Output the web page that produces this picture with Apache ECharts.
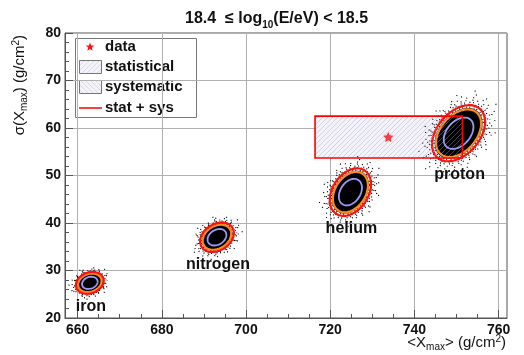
<!DOCTYPE html>
<html>
<head>
<meta charset="utf-8">
<script src="https://cdn.jsdelivr.net/npm/echarts@6/dist/echarts.min.js"></script>
<style>
  html, body { margin: 0; padding: 0; background: #fff; }
  #chart { width: 524px; height: 355px; }
</style>
</head>
<body>
<div id="chart"></div>
<script>
// simulated compositions: mean <Xmax>, mean sigma(Xmax), spread of the outer (red) contour
const compositions = ['iron', 'nitrogen', 'helium', 'proton'];
const meanXmax = [662.9, 693.1, 724.8, 750.5];
const meanSigma = [27.4, 37.0, 46.5, 58.9];
const spreadX = [3.3, 4.0, 4.9, 6.3];
const spreadY = [2.3, 3.1, 5.0, 5.9];
const spreadCorr = [0.2, 0.28, 0.33, 0.4];

// measured point with errors
const dataXmax = [733.8];
const dataSigma = [58.1];
const statErrX = [1.2];
const statErrY = [1.0];
const sysErrX = [-17.4, 17.6];
const sysErrY = [-4.4, 4.4];

// axis ticks
const xLabels = [660, 680, 700, 720, 740, 760];
const xMinorTicks = [660, 665, 670, 675, 680, 685, 690, 695, 700, 705, 710, 715, 720, 725, 730, 735, 740, 745, 750, 755, 760];

const FONT = '"Liberation Sans", Arial, Helvetica, sans-serif';

const hatch = (bg, line, dir) => {
  const c = document.createElement('canvas');
  c.width = 5;
  c.height = 5;
  const g = c.getContext('2d');
  g.fillStyle = bg;
  g.fillRect(0, 0, 5, 5);
  g.strokeStyle = line;
  g.lineWidth = 1;
  g.beginPath();
  for (let o = -5; o <= 10; o += 5) {
    if (dir > 0) {
      g.moveTo(o, 5);
      g.lineTo(o + 5, 0);
    } else {
      g.moveTo(o, 0);
      g.lineTo(o + 5, 5);
    }
  }
  g.stroke();
  return { image: c, repeat: 'repeat' };
};

const boxFill = hatch('#f2f2f8', '#dedeec', 1);
const boxOverlay = hatch('rgba(0,0,0,0)', 'rgba(185,185,225,0.35)', 1);
const legStatFill = hatch('#f2f2f8', '#dadaea', 1);
const legSysFill = hatch('#f2f2f8', '#dadaea', -1);

const ellipse = (api, cx, cy, rx, ry, rho, k) => {
  const pts = [];
  const s = Math.sqrt(1 - rho * rho);
  for (let i = 0; i < 72; i++) {
    const t = (2 * Math.PI * i) / 72;
    pts.push(api.coord([cx + k * rx * Math.cos(t), cy + k * ry * (rho * Math.cos(t) + s * Math.sin(t))]));
  }
  return pts;
};

// dotted halo around each contour: [scale, dash pattern, offset]
const halo = [
  [0.93, [1, 2, 1, 3.5], 0],
  [1.03, [1, 3, 1, 2], 1],
  [1.1, [1, 2.5, 1, 4.5], 2],
  [1.18, [1, 4, 1, 6], 0.5],
  [1.27, [1, 6, 1, 9], 3],
  [1.37, [1, 10, 1, 14], 5],
  [1.5, [1, 18, 1, 25], 7]
];

const renderBlob = (params, api) => {
  const cx = api.value(0);
  const cy = api.value(1);
  const rx = api.value(2);
  const ry = api.value(3);
  const rho = api.value(4);
  const children = [];
  halo.forEach(([k, dash, off]) => {
    children.push({
      type: 'polygon',
      shape: { points: ellipse(api, cx, cy, rx, ry, rho, k) },
      style: { fill: 'none', stroke: '#000', lineWidth: 1.2, lineDash: dash, lineDashOffset: off }
    });
  });
  children.push({
    type: 'polygon',
    shape: { points: ellipse(api, cx, cy, rx, ry, rho, 0.9) },
    style: { fill: '#000', stroke: 'none' }
  });
  children.push({
    type: 'polygon',
    shape: { points: ellipse(api, cx, cy, rx, ry, rho, 0.56) },
    style: { fill: 'none', stroke: '#9a9af8', lineWidth: 1.8 }
  });
  children.push({
    type: 'polygon',
    shape: { points: ellipse(api, cx, cy, rx, ry, rho, 0.85) },
    style: { fill: 'none', stroke: '#ff8a1c', lineWidth: 2.2 }
  });
  const red = ellipse(api, cx, cy, rx, ry, rho, 1);
  children.push({
    type: 'polygon',
    shape: { points: red },
    style: { fill: 'none', stroke: '#ff1010', lineWidth: 2.2 }
  });
  const c = api.coord([cx, cy]);
  const bottom = Math.max(...red.map(p => p[1]));
  children.push({
    type: 'text',
    x: c[0] + 1,
    y: bottom + 13,
    style: {
      text: compositions[params.dataIndex],
      fill: '#111',
      font: 'bold 16px ' + FONT,
      align: 'center',
      verticalAlign: 'middle'
    }
  });
  return { type: 'group', children };
};

const boxRect = (api) => {
  const x = api.value(0);
  const y = api.value(1);
  const p0 = api.coord([x + sysErrX[0], y + sysErrY[1]]);
  const p1 = api.coord([x + sysErrX[1], y + sysErrY[0]]);
  return { x: p0[0], y: p0[1], width: p1[0] - p0[0], height: p1[1] - p0[1] };
};

// box background, drawn beneath the simulations
const renderBoxFill = (params, api) => {
  const x = api.value(0);
  const y = api.value(1);
  const st0 = api.coord([x - statErrX[0], y + statErrY[0]]);
  const st1 = api.coord([x + statErrX[0], y - statErrY[0]]);
  return {
    type: 'group',
    children: [
      { type: 'rect', shape: boxRect(api), style: { fill: boxFill, stroke: 'none' } },
      {
        type: 'rect',
        shape: { x: st0[0], y: st0[1], width: st1[0] - st0[0], height: st1[1] - st0[1] },
        style: { fill: '#eaeaf4', stroke: 'none' }
      }
    ]
  };
};

// hatch overlay and stat + sys outline, drawn above the simulations
const renderBoxTop = (params, api) => ({
  type: 'group',
  children: [
    { type: 'rect', shape: boxRect(api), style: { fill: boxOverlay, stroke: 'none' } },
    { type: 'rect', shape: boxRect(api), style: { fill: 'none', stroke: '#ff0000', lineWidth: 1.6 } }
  ]
});

const starPoints = (cx, cy, r) => {
  const pts = [];
  for (let i = 0; i < 10; i++) {
    const a = -Math.PI / 2 + (i * Math.PI) / 5;
    const rr = i % 2 === 0 ? r : r * 0.42;
    pts.push([cx + rr * Math.cos(a), cy + rr * Math.sin(a)]);
  }
  return pts;
};

const axisText = { color: '#111', fontFamily: FONT, fontWeight: 'bold', fontSize: 14 };
const boxData = dataXmax.map((x, i) => [x, dataSigma[i]]);

const chart = echarts.init(document.getElementById('chart'));

chart.setOption({
  animation: false,
  backgroundColor: '#fff',
  title: {
    left: 180,
    top: 3,
    text: '{a|18.4  ≤ log}{s|10}{a|(E/eV) < 18.5}',
    textStyle: {
      rich: {
        a: { fontFamily: FONT, fontWeight: 'bold', fontSize: 16, color: '#111', height: 22 },
        s: { fontFamily: FONT, fontWeight: 'bold', fontSize: 10, color: '#111', verticalAlign: 'bottom', padding: [10, 0, 0, 0] }
      }
    }
  },
  grid: { left: 65, right: 17, top: 33, bottom: 37, show: true, borderColor: '#555', borderWidth: 1 },
  xAxis: [
    {
      type: 'value',
      min: 657,
      max: 762,
      axisLine: { show: true, lineStyle: { color: '#555' } },
      axisTick: { show: true, inside: true, length: 8, customValues: xLabels, lineStyle: { color: '#555' } },
      axisLabel: { ...axisText, margin: 5, customValues: xLabels },
      splitLine: { show: true, lineStyle: { color: '#b0b0b0', width: 1 } }
    },
    {
      type: 'value',
      position: 'top',
      offset: -285,
      min: 657,
      max: 762,
      axisLine: { show: false },
      axisTick: { show: true, inside: false, length: 4, customValues: xMinorTicks, lineStyle: { color: '#555' } },
      axisLabel: { show: false },
      splitLine: { show: false }
    }
  ],
  yAxis: {
    type: 'value',
    min: 20,
    max: 80,
    interval: 10,
    axisLine: { show: true, lineStyle: { color: '#555' } },
    axisTick: { show: true, inside: true, length: 8, lineStyle: { color: '#555' } },
    minorTick: { show: true, splitNumber: 5, length: 4, lineStyle: { color: '#555' } },
    axisLabel: { ...axisText, margin: 4 },
    splitLine: { show: true, lineStyle: { color: '#b0b0b0', width: 1 } }
  },
  series: [
    {
      type: 'custom',
      name: 'box fill',
      z: 1,
      renderItem: renderBoxFill,
      data: boxData
    },
    {
      type: 'custom',
      name: 'simulation',
      z: 2,
      renderItem: renderBlob,
      data: compositions.map((n, i) => [meanXmax[i], meanSigma[i], spreadX[i], spreadY[i], spreadCorr[i]])
    },
    {
      type: 'custom',
      name: 'box',
      z: 3,
      renderItem: renderBoxTop,
      data: boxData
    },
    {
      type: 'scatter',
      name: 'data',
      z: 4,
      symbol: 'path://M0,-10L2.94,-4.05L9.51,-3.09L4.76,1.55L5.88,8.09L0,5L-5.88,8.09L-4.76,1.55L-9.51,-3.09L-2.94,-4.05Z',
      symbolSize: 10,
      itemStyle: { color: '#ff1010' },
      data: boxData
    }
  ],
  graphic: [
    {
      type: 'text',
      x: 20,
      y: 35,
      rotation: Math.PI / 2,
      style: {
        text: '{a|σ(X}{s|max}{a|) (g/cm}{p|2}{a|)}',
        align: 'right',
        verticalAlign: 'middle',
        rich: {
          a: { fontFamily: FONT, fontSize: 15, fill: '#111', height: 20 },
          s: { fontFamily: FONT, fontSize: 10, fill: '#111', padding: [9, 0, 0, 0] },
          p: { fontFamily: FONT, fontSize: 10, fill: '#111', padding: [0, 0, 8, 0] }
        }
      }
    },
    {
      type: 'text',
      x: 506,
      y: 343,
      style: {
        text: '{a|<X}{s|max}{a|> (g/cm}{p|2}{a|)}',
        align: 'right',
        verticalAlign: 'middle',
        rich: {
          a: { fontFamily: FONT, fontSize: 15, fill: '#111', height: 20 },
          s: { fontFamily: FONT, fontSize: 10, fill: '#111', padding: [9, 0, 0, 0] },
          p: { fontFamily: FONT, fontSize: 10, fill: '#111', padding: [0, 0, 8, 0] }
        }
      }
    },
    {
      type: 'group',
      z: 10,
      children: [
        { type: 'rect', shape: { x: 75.5, y: 38.5, width: 121, height: 79 }, style: { fill: '#fff', stroke: '#777', lineWidth: 1 } },
        { type: 'polygon', shape: { points: starPoints(90, 47, 4.5) }, style: { fill: '#ff1010' } },
        { type: 'text', x: 105, y: 47, style: { text: 'data', font: 'bold 15px ' + FONT, fill: '#111', verticalAlign: 'middle' } },
        { type: 'rect', shape: { x: 79.5, y: 60.5, width: 22, height: 13 }, style: { fill: legStatFill, stroke: '#777', lineWidth: 1 } },
        { type: 'text', x: 105, y: 67, style: { text: 'statistical', font: 'bold 15px ' + FONT, fill: '#111', verticalAlign: 'middle' } },
        { type: 'rect', shape: { x: 79.5, y: 80.5, width: 22, height: 13 }, style: { fill: legSysFill, stroke: '#777', lineWidth: 1 } },
        { type: 'text', x: 105, y: 87, style: { text: 'systematic', font: 'bold 15px ' + FONT, fill: '#111', verticalAlign: 'middle' } },
        { type: 'line', shape: { x1: 79, y1: 108, x2: 102, y2: 108 }, style: { stroke: '#ff1010', lineWidth: 1.6 } },
        { type: 'text', x: 105, y: 108, style: { text: 'stat + sys', font: 'bold 15px ' + FONT, fill: '#111', verticalAlign: 'middle' } }
      ]
    }
  ]
});
</script>
</body>
</html>
